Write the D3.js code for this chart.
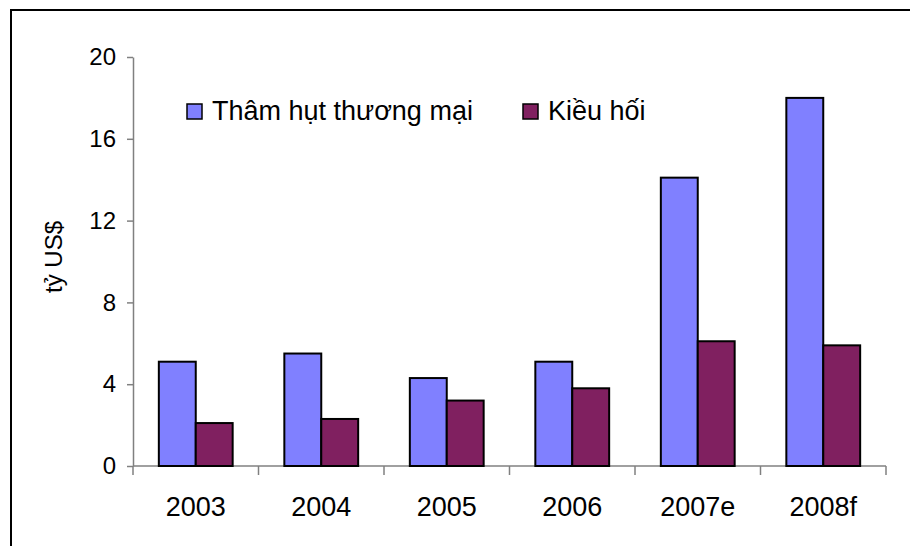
<!DOCTYPE html>
<html lang="vi">
<head>
<meta charset="utf-8">
<title>Thâm hụt thương mại và Kiều hối</title>
<script src="https://cdn.jsdelivr.net/npm/d3@7"></script>
<style>
body { margin: 0; background: #fff; }
text { font-family: "Liberation Sans", Arial, sans-serif; fill: #000; }
.axis path, .axis line { stroke: #808080; stroke-width: 1.5px; }
.bar { stroke: #000; stroke-width: 2px; }
</style>
</head>
<body>
<script>
// chart data
var years = ["2003", "2004", "2005", "2006", "2007e", "2008f"];
var seriesNames = ["Thâm hụt thương mại", "Kiều hối"];
var deficit = [5.1, 5.5, 4.3, 5.1, 14.1, 18.0];
var remittance = [2.1, 2.3, 3.2, 3.8, 6.1, 5.9];
var yTicks = [0, 4, 8, 12, 16, 20];
var colors = ["#8080ff", "#802060"];

var w = 910, h = 546;
var margin = {left: 133, right: 24, top: 57, bottom: 80};

var svg = d3.select("body").append("svg")
    .attr("width", w)
    .attr("height", h);

// outer frame (runs off the right and bottom edges)
svg.append("rect")
    .attr("x", 11).attr("y", 10)
    .attr("width", w + 10).attr("height", h + 10)
    .attr("fill", "none")
    .attr("stroke", "#000")
    .attr("stroke-width", 2);

var x0 = d3.scaleBand()
    .domain(years)
    .range([margin.left, w - margin.right]);

var x1 = d3.scaleBand()
    .domain(d3.range(seriesNames.length))
    .range([0, x0.bandwidth()])
    .paddingOuter(0.7);

var y = d3.scaleLinear()
    .domain([0, 20])
    .range([h - margin.bottom, margin.top]);

var rows = years.map(function(yr, i) {
    return {year: yr, vals: [deficit[i], remittance[i]]};
});

// y axis
var yAxis = svg.append("g")
    .attr("class", "axis")
    .attr("transform", "translate(" + margin.left + ",0)")
    .call(d3.axisLeft(y).tickValues(yTicks).tickSize(6).tickPadding(11).tickSizeOuter(0));
yAxis.selectAll("text").style("font-size", "24px");

// x axis: ticks sit on band boundaries
var xAxisG = svg.append("g")
    .attr("class", "axis")
    .attr("transform", "translate(0," + y(0) + ")");
xAxisG.append("line")
    .attr("x1", margin.left).attr("x2", w - margin.right)
    .attr("y1", 0).attr("y2", 0);
xAxisG.selectAll(".tk")
    .data(years.concat(["end"]))
    .enter().append("line")
    .attr("class", "tk")
    .attr("x1", function(d, i) { return margin.left + i * x0.step(); })
    .attr("x2", function(d, i) { return margin.left + i * x0.step(); })
    .attr("y1", 0).attr("y2", 9);
xAxisG.selectAll(".lbl")
    .data(years)
    .enter().append("text")
    .attr("class", "lbl")
    .attr("x", function(d) { return x0(d) + x0.bandwidth() / 2; })
    .attr("y", 50)
    .attr("text-anchor", "middle")
    .style("font-size", "27px")
    .text(function(d) { return d; });

// bars
var groups = svg.selectAll(".grp")
    .data(rows)
    .enter().append("g")
    .attr("class", "grp")
    .attr("transform", function(d) { return "translate(" + x0(d.year) + ",0)"; });

groups.selectAll("rect")
    .data(function(d) { return d.vals; })
    .enter().append("rect")
    .attr("class", "bar")
    .attr("x", function(d, i) { return x1(i); })
    .attr("y", function(d) { return y(d); })
    .attr("width", x1.bandwidth())
    .attr("height", function(d) { return y(0) - y(d); })
    .attr("fill", function(d, i) { return colors[i]; });

// y label
svg.append("text")
    .attr("transform", "translate(62,257) rotate(-90)")
    .attr("text-anchor", "middle")
    .style("font-size", "24px")
    .text("tỷ US$");

// legend
var legendX = [187, 523];
var legend = svg.selectAll(".leg")
    .data(seriesNames)
    .enter().append("g")
    .attr("class", "leg")
    .attr("transform", function(d, i) { return "translate(" + legendX[i] + ",104)"; });
legend.append("rect")
    .attr("width", 15).attr("height", 15)
    .attr("fill", function(d, i) { return colors[i]; })
    .attr("stroke", "#000")
    .attr("stroke-width", 1.5);
legend.append("text")
    .attr("x", 25)
    .attr("y", 16)
    .style("font-size", "27px")
    .text(function(d) { return d; });
</script>
</body>
</html>
